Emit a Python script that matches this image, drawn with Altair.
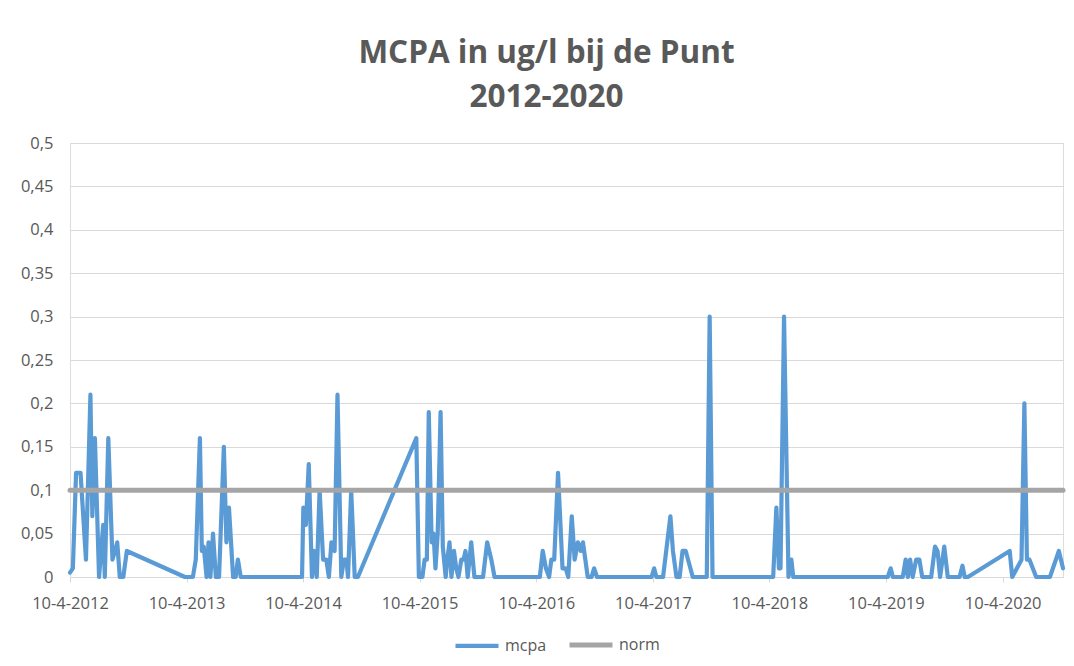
import altair as alt
import pandas as pd

# ---- data (MCPA in ug/l, sample dates) ----
dates_2012 = ["2012-04-10", "2012-04-19", "2012-04-29", "2012-05-13", "2012-05-30", "2012-06-13",
              "2012-06-19", "2012-06-27", "2012-07-10", "2012-07-23", "2012-07-28", "2012-08-08",
              "2012-08-21", "2012-08-29", "2012-09-05", "2012-09-13", "2012-09-24", "2012-10-05"]
mcpa_2012 = [0.005, 0.01, 0.12, 0.12, 0.02, 0.21, 0.07, 0.16, 0, 0.06, 0, 0.16,
             0.02, 0.03, 0.04, 0, 0, 0.03]

dates_2013 = ["2013-04-05", "2013-04-30", "2013-05-09", "2013-05-22", "2013-05-28", "2013-06-03",
              "2013-06-12", "2013-06-18", "2013-06-24", "2013-07-02", "2013-07-11", "2013-07-21",
              "2013-08-05", "2013-08-13", "2013-08-21", "2013-09-03", "2013-09-11", "2013-09-18",
              "2013-09-27"]
mcpa_2013 = [0, 0, 0.02, 0.16, 0.03, 0.035, 0, 0.04, 0, 0.05, 0, 0,
             0.15, 0.04, 0.08, 0, 0, 0.02, 0]

dates_2014 = ["2014-04-07", "2014-04-11", "2014-04-19", "2014-04-28", "2014-05-08", "2014-05-14",
              "2014-05-23", "2014-06-01", "2014-06-12", "2014-06-22", "2014-06-30", "2014-07-08",
              "2014-07-18", "2014-07-27", "2014-08-08", "2014-08-16", "2014-08-24", "2014-08-29",
              "2014-09-08", "2014-09-19", "2014-09-29"]
mcpa_2014 = [0, 0.08, 0.06, 0.13, 0, 0.03, 0, 0.1, 0.02, 0.02, 0, 0.04,
             0.03, 0.21, 0, 0.02, 0.02, 0, 0.1, 0, 0]

dates_2015 = ["2015-03-31", "2015-04-08", "2015-04-19", "2015-04-26", "2015-05-03", "2015-05-09",
              "2015-05-18", "2015-05-24", "2015-05-30", "2015-06-06", "2015-06-15", "2015-06-22",
              "2015-07-01", "2015-07-06", "2015-07-13", "2015-07-19", "2015-07-27", "2015-08-03",
              "2015-08-10", "2015-08-19", "2015-08-26", "2015-09-01", "2015-09-08", "2015-09-19",
              "2015-09-29", "2015-10-26", "2015-11-08", "2015-11-21", "2015-12-01"]
mcpa_2015 = [0.16, 0, 0, 0.02, 0.02, 0.19, 0.04, 0.05, 0.01, 0.05, 0.19, 0.035,
             0, 0.02, 0.04, 0, 0.03, 0.01, 0, 0.02, 0.02, 0.03, 0, 0.04,
             0, 0, 0.04, 0.02, 0]

dates_2016 = ["2016-04-21", "2016-04-30", "2016-05-10", "2016-05-20", "2016-05-27", "2016-06-05",
              "2016-06-17", "2016-07-01", "2016-07-11", "2016-07-19", "2016-07-30", "2016-08-08",
              "2016-08-18", "2016-08-27", "2016-09-03", "2016-09-18", "2016-09-30", "2016-10-08",
              "2016-10-17"]
mcpa_2016 = [0, 0.03, 0.01, 0, 0.02, 0.02, 0.12, 0.01, 0.01, 0, 0.07, 0.02,
             0.04, 0.03, 0.04, 0, 0, 0.01, 0]

dates_2017 = ["2017-04-06", "2017-04-14", "2017-04-21", "2017-05-12", "2017-06-04", "2017-06-12",
              "2017-06-23", "2017-07-03", "2017-07-12", "2017-07-22", "2017-08-13", "2017-09-26",
              "2017-10-05", "2017-10-14"]
mcpa_2017 = [0, 0.01, 0, 0, 0.07, 0.03, 0, 0, 0.03, 0.03, 0, 0, 0.3, 0]

dates_2018 = ["2018-04-22", "2018-05-02", "2018-05-10", "2018-05-15", "2018-05-26", "2018-06-09",
              "2018-06-18", "2018-06-24"]
mcpa_2018 = [0, 0.08, 0.01, 0.01, 0.3, 0, 0.02, 0]

dates_2019 = ["2019-04-16", "2019-04-25", "2019-05-02", "2019-06-02", "2019-06-11", "2019-06-18",
              "2019-06-25", "2019-07-03", "2019-07-14", "2019-07-24", "2019-08-02", "2019-08-30",
              "2019-09-11", "2019-09-19", "2019-09-27", "2019-10-10", "2019-10-21", "2019-11-27",
              "2019-12-06", "2019-12-13", "2019-12-23"]
mcpa_2019 = [0, 0.01, 0, 0, 0.02, 0, 0.02, 0, 0.02, 0.02, 0, 0,
             0.035, 0.03, 0, 0.035, 0, 0, 0.013, 0, 0]

dates_2020 = ["2020-05-02", "2020-05-10", "2020-06-08", "2020-06-17", "2020-06-25", "2020-07-03",
              "2020-07-24", "2020-09-05", "2020-10-03", "2020-10-16"]
mcpa_2020 = [0.03, 0, 0.02, 0.2, 0.02, 0.02, 0, 0, 0.03, 0.01]

norm_value = 0.1
series_names = ["mcpa", "norm"]
series_colors = ["#5B9BD5", "#A5A5A5"]
tick_years = [2012, 2013, 2014, 2015, 2016, 2017, 2018, 2019, 2020]
y_ticks = [0, 0.05, 0.1, 0.15, 0.2, 0.25, 0.3, 0.35, 0.4, 0.45, 0.5]
title_lines = ["MCPA in ug/l bij de Punt", "2012-2020"]

all_dates = (dates_2012 + dates_2013 + dates_2014 + dates_2015 + dates_2016 +
             dates_2017 + dates_2018 + dates_2019 + dates_2020)
all_mcpa = (mcpa_2012 + mcpa_2013 + mcpa_2014 + mcpa_2015 + mcpa_2016 +
            mcpa_2017 + mcpa_2018 + mcpa_2019 + mcpa_2020)

df = pd.concat([
    pd.DataFrame({"datum": all_dates, "waarde": all_mcpa, "reeks": "mcpa"}),
    pd.DataFrame({"datum": all_dates, "waarde": [norm_value] * len(all_dates), "reeks": "norm"}),
], ignore_index=True)

grey_text = "#595959"
grid_grey = "#D9D9D9"
font = "Open Sans"

x_ticks = [alt.DateTime(year=y, month=4, date=10, utc=True) for y in tick_years]
x_domain = [alt.DateTime(year=2012, month=4, date=10, utc=True),
            alt.DateTime(year=2020, month=10, date=16, utc=True)]

chart = alt.Chart(df).mark_line(strokeJoin="round", strokeCap="round").encode(
    x=alt.X("datum:T",
            scale=alt.Scale(type="utc", domain=x_domain),
            axis=alt.Axis(values=x_ticks, title=None, grid=False,
                          labelExpr="utcFormat(datum.value, '%-d-%-m-%Y')",
                          domainColor=grid_grey, tickColor=grid_grey, tickSize=5,
                          labelColor=grey_text, labelFont=font, labelFontSize=16.5,
                          labelPadding=13, labelFlush=False, labelOverlap=False)),
    y=alt.Y("waarde:Q",
            scale=alt.Scale(domain=[0, 0.5], nice=False),
            axis=alt.Axis(values=y_ticks, title=None, domain=False, ticks=False,
                          labelExpr="replace(toString(datum.value), '.', ',')",
                          gridColor=grid_grey, gridWidth=1,
                          labelColor=grey_text, labelFont=font, labelFontSize=16.5,
                          labelPadding=17)),
    color=alt.Color("reeks:N",
                    scale=alt.Scale(domain=series_names, range=series_colors),
                    legend=alt.Legend(title=None, orient="none", legendX=383, legendY=478,
                                      direction="horizontal", symbolType="stroke",
                                      symbolSize=1849, symbolStrokeWidth=4.5,
                                      labelFont=font, labelFontSize=16, labelColor=grey_text,
                                      labelOffset=4, columnPadding=12)),
    strokeWidth=alt.StrokeWidth("reeks:N",
                                scale=alt.Scale(domain=series_names, range=[4.2, 5]),
                                legend=None),
).properties(
    width=993,
    height=434,
    autosize=alt.AutoSizeParams(type="none"),
    padding={"left": 62, "top": 135, "right": 3, "bottom": 80},
    title=alt.TitleParams(text=title_lines, font=font, fontSize=31.5, fontWeight="bold",
                          color=grey_text, lineHeight=44, anchor="middle",
                          offset=22, dx=-20),
).configure_view(stroke="transparent").configure(background="white")

chart.save("out.html", embed_options={"renderer": "svg", "actions": False})
